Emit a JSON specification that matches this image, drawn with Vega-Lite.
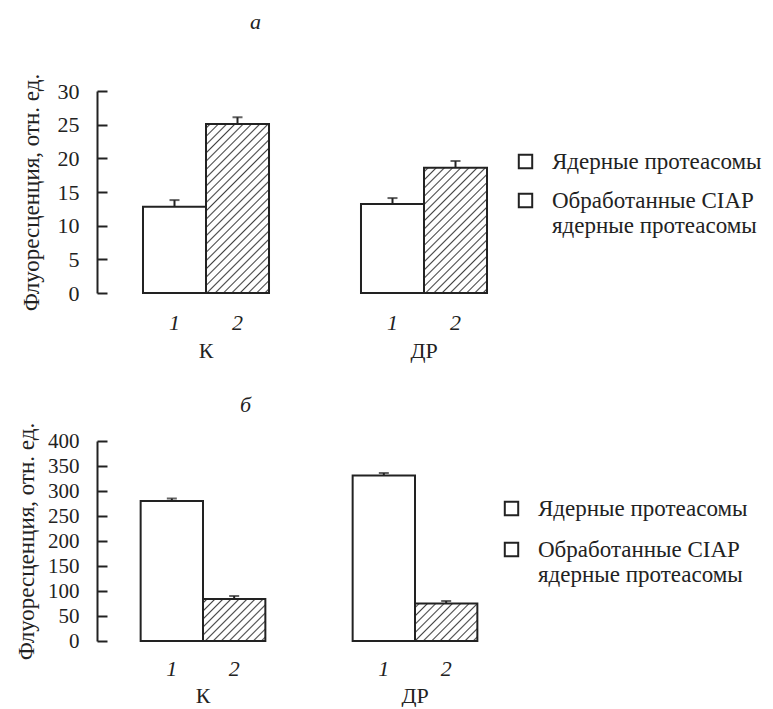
{
  "$schema": "https://vega.github.io/schema/vega-lite/v6.json",
  "background": "white",
  "padding": {"left": 14, "top": 11, "right": 4, "bottom": 0},
  "config": {
    "font": "Liberation Serif, Times New Roman, serif",
    "view": {"stroke": null},
    "title": {"fontSize": 22, "fontStyle": "italic", "fontWeight": "normal", "font": "Liberation Serif, Times New Roman, serif", "color": "#222"},
    "axis": {"labelFont": "Liberation Serif, Times New Roman, serif", "titleFont": "Liberation Serif, Times New Roman, serif", "labelColor": "#222", "titleColor": "#222", "grid": false},
    "header": {"labelFont": "Liberation Serif, Times New Roman, serif", "labelFontSize": 22, "labelColor": "#222"},
    "legend": {"labelFont": "Liberation Serif, Times New Roman, serif", "labelFontSize": 23, "labelColor": "#222", "labelLimit": 0}
  },
  "spacing": 32,
  "resolve": {"scale": {"fill": "independent"}, "legend": {"fill": "independent"}},
  "vconcat": [
    {
      "title": {"text": "а", "anchor": "start", "frame": "group", "dx": 153, "offset": 39},
      "data": {"values": [
        {"group": "К", "bar": "1", "value": 12.8, "upper": 13.8},
        {"group": "К", "bar": "2", "value": 25.1, "upper": 26.1},
        {"group": "ДР", "bar": "1", "value": 13.2, "upper": 14.1},
        {"group": "ДР", "bar": "2", "value": 18.6, "upper": 19.6}
      ]},
      "facet": {"column": {"field": "group", "type": "nominal", "sort": ["К", "ДР"], "title": null, "header": {"labelOrient": "bottom", "labelPadding": 8, "labelFont": "Liberation Serif, Times New Roman, serif", "labelFontSize": 22, "labelColor": "#222"}}},
      "spacing": {"column": 0},
      "spec": {
        "width": 218,
        "height": 202,
        "encoding": {
          "x": {"field": "bar", "type": "nominal", "scale": {"paddingInner": 0, "paddingOuter": 0.73}, "axis": {"domain": false, "ticks": false, "labelAngle": 0, "labelFont": "Liberation Serif, Times New Roman, serif", "labelFontStyle": "italic", "labelFontSize": 22, "labelColor": "#222", "labelPadding": 18, "title": null}}
        },
        "layer": [
          {
            "mark": {"type": "bar", "stroke": "#222", "strokeWidth": 2},
            "encoding": {
              "y": {"field": "value", "type": "quantitative", "scale": {"domain": [0, 30]}, "axis": {"values": [0, 5, 10, 15, 20, 25, 30], "labelOverlap": false, "tickSize": -10, "tickWidth": 2, "tickColor": "#222", "domainWidth": 2, "domainColor": "#222", "labelFont": "Liberation Serif, Times New Roman, serif", "labelFontSize": 22, "labelColor": "#222", "labelPadding": 28, "title": "Флуоресценция, отн. ед.", "titleFont": "Liberation Serif, Times New Roman, serif", "titleColor": "#222", "titleFontSize": 23, "titleFontWeight": "normal", "titlePadding": 6, "minExtent": 48, "maxExtent": 48}},
              "fill": {
                "field": "bar", "type": "nominal",
                "scale": {"domain": ["1", "2"], "range": ["white", "white"]},
                "condition": [
                  {"test": "datum.group === 'К' && datum.bar === '2'", "value": {"gradient": "linear", "x1": 0, "y1": 0, "x2": 0.4493, "y2": 1.2053, "stops": [
                    {"offset": 0.0114, "color": "#fff"}, {"offset": 0.0179, "color": "#444"}, {"offset": 0.0244, "color": "#fff"},
                    {"offset": 0.0471, "color": "#fff"}, {"offset": 0.0536, "color": "#444"}, {"offset": 0.0601, "color": "#fff"},
                    {"offset": 0.0828, "color": "#fff"}, {"offset": 0.0893, "color": "#444"}, {"offset": 0.0958, "color": "#fff"},
                    {"offset": 0.1185, "color": "#fff"}, {"offset": 0.1250, "color": "#444"}, {"offset": 0.1315, "color": "#fff"},
                    {"offset": 0.1542, "color": "#fff"}, {"offset": 0.1607, "color": "#444"}, {"offset": 0.1672, "color": "#fff"},
                    {"offset": 0.1899, "color": "#fff"}, {"offset": 0.1964, "color": "#444"}, {"offset": 0.2029, "color": "#fff"},
                    {"offset": 0.2256, "color": "#fff"}, {"offset": 0.2321, "color": "#444"}, {"offset": 0.2386, "color": "#fff"},
                    {"offset": 0.2614, "color": "#fff"}, {"offset": 0.2679, "color": "#444"}, {"offset": 0.2744, "color": "#fff"},
                    {"offset": 0.2971, "color": "#fff"}, {"offset": 0.3036, "color": "#444"}, {"offset": 0.3101, "color": "#fff"},
                    {"offset": 0.3328, "color": "#fff"}, {"offset": 0.3393, "color": "#444"}, {"offset": 0.3458, "color": "#fff"},
                    {"offset": 0.3685, "color": "#fff"}, {"offset": 0.3750, "color": "#444"}, {"offset": 0.3815, "color": "#fff"},
                    {"offset": 0.4042, "color": "#fff"}, {"offset": 0.4107, "color": "#444"}, {"offset": 0.4172, "color": "#fff"},
                    {"offset": 0.4399, "color": "#fff"}, {"offset": 0.4464, "color": "#444"}, {"offset": 0.4529, "color": "#fff"},
                    {"offset": 0.4756, "color": "#fff"}, {"offset": 0.4821, "color": "#444"}, {"offset": 0.4886, "color": "#fff"},
                    {"offset": 0.5114, "color": "#fff"}, {"offset": 0.5179, "color": "#444"}, {"offset": 0.5244, "color": "#fff"},
                    {"offset": 0.5471, "color": "#fff"}, {"offset": 0.5536, "color": "#444"}, {"offset": 0.5601, "color": "#fff"},
                    {"offset": 0.5828, "color": "#fff"}, {"offset": 0.5893, "color": "#444"}, {"offset": 0.5958, "color": "#fff"},
                    {"offset": 0.6185, "color": "#fff"}, {"offset": 0.6250, "color": "#444"}, {"offset": 0.6315, "color": "#fff"},
                    {"offset": 0.6542, "color": "#fff"}, {"offset": 0.6607, "color": "#444"}, {"offset": 0.6672, "color": "#fff"},
                    {"offset": 0.6899, "color": "#fff"}, {"offset": 0.6964, "color": "#444"}, {"offset": 0.7029, "color": "#fff"},
                    {"offset": 0.7256, "color": "#fff"}, {"offset": 0.7321, "color": "#444"}, {"offset": 0.7386, "color": "#fff"},
                    {"offset": 0.7614, "color": "#fff"}, {"offset": 0.7679, "color": "#444"}, {"offset": 0.7744, "color": "#fff"},
                    {"offset": 0.7971, "color": "#fff"}, {"offset": 0.8036, "color": "#444"}, {"offset": 0.8101, "color": "#fff"},
                    {"offset": 0.8328, "color": "#fff"}, {"offset": 0.8393, "color": "#444"}, {"offset": 0.8458, "color": "#fff"},
                    {"offset": 0.8685, "color": "#fff"}, {"offset": 0.8750, "color": "#444"}, {"offset": 0.8815, "color": "#fff"},
                    {"offset": 0.9042, "color": "#fff"}, {"offset": 0.9107, "color": "#444"}, {"offset": 0.9172, "color": "#fff"},
                    {"offset": 0.9399, "color": "#fff"}, {"offset": 0.9464, "color": "#444"}, {"offset": 0.9529, "color": "#fff"},
                    {"offset": 0.9756, "color": "#fff"}, {"offset": 0.9821, "color": "#444"}, {"offset": 0.9886, "color": "#fff"}
                  ]}},
                  {"test": "datum.group === 'ДР' && datum.bar === '2'", "value": {"gradient": "linear", "x1": 0, "y1": 0, "x2": 0.6036, "y2": 1.1995, "stops": [
                    {"offset": 0.0137, "color": "#fff"}, {"offset": 0.0217, "color": "#444"}, {"offset": 0.0297, "color": "#fff"},
                    {"offset": 0.0572, "color": "#fff"}, {"offset": 0.0652, "color": "#444"}, {"offset": 0.0732, "color": "#fff"},
                    {"offset": 0.1007, "color": "#fff"}, {"offset": 0.1087, "color": "#444"}, {"offset": 0.1167, "color": "#fff"},
                    {"offset": 0.1442, "color": "#fff"}, {"offset": 0.1522, "color": "#444"}, {"offset": 0.1602, "color": "#fff"},
                    {"offset": 0.1877, "color": "#fff"}, {"offset": 0.1957, "color": "#444"}, {"offset": 0.2037, "color": "#fff"},
                    {"offset": 0.2311, "color": "#fff"}, {"offset": 0.2391, "color": "#444"}, {"offset": 0.2471, "color": "#fff"},
                    {"offset": 0.2746, "color": "#fff"}, {"offset": 0.2826, "color": "#444"}, {"offset": 0.2906, "color": "#fff"},
                    {"offset": 0.3181, "color": "#fff"}, {"offset": 0.3261, "color": "#444"}, {"offset": 0.3341, "color": "#fff"},
                    {"offset": 0.3616, "color": "#fff"}, {"offset": 0.3696, "color": "#444"}, {"offset": 0.3776, "color": "#fff"},
                    {"offset": 0.4050, "color": "#fff"}, {"offset": 0.4130, "color": "#444"}, {"offset": 0.4210, "color": "#fff"},
                    {"offset": 0.4485, "color": "#fff"}, {"offset": 0.4565, "color": "#444"}, {"offset": 0.4645, "color": "#fff"},
                    {"offset": 0.4920, "color": "#fff"}, {"offset": 0.5000, "color": "#444"}, {"offset": 0.5080, "color": "#fff"},
                    {"offset": 0.5355, "color": "#fff"}, {"offset": 0.5435, "color": "#444"}, {"offset": 0.5515, "color": "#fff"},
                    {"offset": 0.5790, "color": "#fff"}, {"offset": 0.5870, "color": "#444"}, {"offset": 0.5950, "color": "#fff"},
                    {"offset": 0.6224, "color": "#fff"}, {"offset": 0.6304, "color": "#444"}, {"offset": 0.6384, "color": "#fff"},
                    {"offset": 0.6659, "color": "#fff"}, {"offset": 0.6739, "color": "#444"}, {"offset": 0.6819, "color": "#fff"},
                    {"offset": 0.7094, "color": "#fff"}, {"offset": 0.7174, "color": "#444"}, {"offset": 0.7254, "color": "#fff"},
                    {"offset": 0.7529, "color": "#fff"}, {"offset": 0.7609, "color": "#444"}, {"offset": 0.7689, "color": "#fff"},
                    {"offset": 0.7963, "color": "#fff"}, {"offset": 0.8043, "color": "#444"}, {"offset": 0.8123, "color": "#fff"},
                    {"offset": 0.8398, "color": "#fff"}, {"offset": 0.8478, "color": "#444"}, {"offset": 0.8558, "color": "#fff"},
                    {"offset": 0.8833, "color": "#fff"}, {"offset": 0.8913, "color": "#444"}, {"offset": 0.8993, "color": "#fff"},
                    {"offset": 0.9268, "color": "#fff"}, {"offset": 0.9348, "color": "#444"}, {"offset": 0.9428, "color": "#fff"},
                    {"offset": 0.9703, "color": "#fff"}, {"offset": 0.9783, "color": "#444"}, {"offset": 0.9863, "color": "#fff"}
                  ]}}
                ],
                "legend": {
                  "title": null,
                  "orient": "none",
                  "legendX": 417,
                  "legendY": 59,
                  "symbolType": "square",
                  "symbolSize": 180,
                  "symbolStrokeWidth": 2,
                  "symbolStrokeColor": "#222",
                  "labelOffset": 15,
                  "rowPadding": 15,
                  "labelFont": "Liberation Serif, Times New Roman, serif",
                  "labelFontSize": 23,
                  "labelColor": "#222",
                  "labelLimit": 0,
                  "labelExpr": "datum.value === '1' ? 'Ядерные протеасомы' : ['Обработанные CIAP', 'ядерные протеасомы']",
                  "encode": {
                    "labels": {"update": {"lineHeight": {"value": 25}}},
                    "symbols": {"update": {"fill": [
                      {"test": "datum.value === '2'", "value": {"gradient": "linear", "x1": 0, "y1": 0, "x2": 1, "y2": 1, "stops": [{"offset": 0.42, "color": "#fff"}, {"offset": 0.5, "color": "#444"}, {"offset": 0.58, "color": "#fff"}]}},
                      {"value": "white"}
                    ], "stroke": {"value": "#222"}, "strokeWidth": {"value": 2}}}
                  }
                }
              }
            }
          },
          {
            "mark": {"type": "rule", "color": "#222", "strokeWidth": 2},
            "encoding": {
              "y": {"field": "value", "type": "quantitative", "scale": {"domain": [0, 30]}, "axis": {"values": [0, 5, 10, 15, 20, 25, 30], "labelOverlap": false, "tickSize": -10, "tickWidth": 2, "tickColor": "#222", "domainWidth": 2, "domainColor": "#222", "labelFont": "Liberation Serif, Times New Roman, serif", "labelFontSize": 22, "labelColor": "#222", "labelPadding": 28, "title": "Флуоресценция, отн. ед.", "titleFont": "Liberation Serif, Times New Roman, serif", "titleColor": "#222", "titleFontSize": 23, "titleFontWeight": "normal", "titlePadding": 6, "minExtent": 48, "maxExtent": 48}},
              "y2": {"field": "upper"}
            }
          },
          {
            "mark": {"type": "tick", "color": "#222", "size": 10, "thickness": 2},
            "encoding": {
              "y": {"field": "upper", "type": "quantitative", "scale": {"domain": [0, 30]}, "axis": {"values": [0, 5, 10, 15, 20, 25, 30], "labelOverlap": false, "tickSize": -10, "tickWidth": 2, "tickColor": "#222", "domainWidth": 2, "domainColor": "#222", "labelFont": "Liberation Serif, Times New Roman, serif", "labelFontSize": 22, "labelColor": "#222", "labelPadding": 28, "title": "Флуоресценция, отн. ед.", "titleFont": "Liberation Serif, Times New Roman, serif", "titleColor": "#222", "titleFontSize": 23, "titleFontWeight": "normal", "titlePadding": 6, "minExtent": 48, "maxExtent": 48}}
            }
          }
        ]
      }
    },
    {
      "title": {"text": "б", "anchor": "start", "frame": "group", "dx": 143, "offset": 5},
      "data": {"values": [
        {"group": "К", "bar": "1", "value": 280, "upper": 285},
        {"group": "К", "bar": "2", "value": 84, "upper": 90},
        {"group": "ДР", "bar": "1", "value": 331, "upper": 336},
        {"group": "ДР", "bar": "2", "value": 75, "upper": 80}
      ]},
      "facet": {"column": {"field": "group", "type": "nominal", "sort": ["К", "ДР"], "title": null, "header": {"labelOrient": "bottom", "labelPadding": 7, "labelFont": "Liberation Serif, Times New Roman, serif", "labelFontSize": 22, "labelColor": "#222"}}},
      "spacing": {"column": 0},
      "spec": {
        "width": 212,
        "height": 200,
        "encoding": {
          "x": {"field": "bar", "type": "nominal", "scale": {"paddingInner": 0, "paddingOuter": 0.7}, "axis": {"domain": false, "ticks": false, "labelAngle": 0, "labelFont": "Liberation Serif, Times New Roman, serif", "labelFontStyle": "italic", "labelFontSize": 22, "labelColor": "#222", "labelPadding": 16, "title": null}}
        },
        "layer": [
          {
            "mark": {"type": "bar", "stroke": "#222", "strokeWidth": 2},
            "encoding": {
              "y": {"field": "value", "type": "quantitative", "scale": {"domain": [0, 400]}, "axis": {"values": [0, 50, 100, 150, 200, 250, 300, 350, 400], "labelOverlap": false, "tickSize": -10, "tickWidth": 2, "tickColor": "#222", "domainWidth": 2, "domainColor": "#222", "labelFont": "Liberation Serif, Times New Roman, serif", "labelFontSize": 21, "labelColor": "#222", "labelPadding": 28, "title": "Флуоресценция, отн. ед.", "titleFont": "Liberation Serif, Times New Roman, serif", "titleColor": "#222", "titleFontSize": 23, "titleFontWeight": "normal", "titlePadding": 7, "minExtent": 52, "maxExtent": 52}},
              "fill": {
                "field": "bar", "type": "nominal",
                "scale": {"domain": ["1", "2"], "range": ["white", "white"]},
                "condition": [
                  {"test": "datum.group === 'К' && datum.bar === '2'", "value": {"gradient": "linear", "x1": 0, "y1": 0, "x2": 1.1512, "y2": 0.7755, "stops": [
                    {"offset": 0.0241, "color": "#fff"}, {"offset": 0.0385, "color": "#444"}, {"offset": 0.0529, "color": "#fff"},
                    {"offset": 0.1010, "color": "#fff"}, {"offset": 0.1154, "color": "#444"}, {"offset": 0.1298, "color": "#fff"},
                    {"offset": 0.1779, "color": "#fff"}, {"offset": 0.1923, "color": "#444"}, {"offset": 0.2067, "color": "#fff"},
                    {"offset": 0.2548, "color": "#fff"}, {"offset": 0.2692, "color": "#444"}, {"offset": 0.2836, "color": "#fff"},
                    {"offset": 0.3318, "color": "#fff"}, {"offset": 0.3462, "color": "#444"}, {"offset": 0.3606, "color": "#fff"},
                    {"offset": 0.4087, "color": "#fff"}, {"offset": 0.4231, "color": "#444"}, {"offset": 0.4375, "color": "#fff"},
                    {"offset": 0.4856, "color": "#fff"}, {"offset": 0.5000, "color": "#444"}, {"offset": 0.5144, "color": "#fff"},
                    {"offset": 0.5625, "color": "#fff"}, {"offset": 0.5769, "color": "#444"}, {"offset": 0.5913, "color": "#fff"},
                    {"offset": 0.6394, "color": "#fff"}, {"offset": 0.6538, "color": "#444"}, {"offset": 0.6682, "color": "#fff"},
                    {"offset": 0.7164, "color": "#fff"}, {"offset": 0.7308, "color": "#444"}, {"offset": 0.7452, "color": "#fff"},
                    {"offset": 0.7933, "color": "#fff"}, {"offset": 0.8077, "color": "#444"}, {"offset": 0.8221, "color": "#fff"},
                    {"offset": 0.8702, "color": "#fff"}, {"offset": 0.8846, "color": "#444"}, {"offset": 0.8990, "color": "#fff"},
                    {"offset": 0.9471, "color": "#fff"}, {"offset": 0.9615, "color": "#444"}, {"offset": 0.9759, "color": "#fff"}
                  ]}},
                  {"test": "datum.group === 'ДР' && datum.bar === '2'", "value": {"gradient": "linear", "x1": 0, "y1": 0, "x2": 1.1760, "y2": 0.7073, "stops": [
                    {"offset": 0.0267, "color": "#fff"}, {"offset": 0.0417, "color": "#444"}, {"offset": 0.0567, "color": "#fff"},
                    {"offset": 0.1100, "color": "#fff"}, {"offset": 0.1250, "color": "#444"}, {"offset": 0.1400, "color": "#fff"},
                    {"offset": 0.1933, "color": "#fff"}, {"offset": 0.2083, "color": "#444"}, {"offset": 0.2233, "color": "#fff"},
                    {"offset": 0.2767, "color": "#fff"}, {"offset": 0.2917, "color": "#444"}, {"offset": 0.3067, "color": "#fff"},
                    {"offset": 0.3600, "color": "#fff"}, {"offset": 0.3750, "color": "#444"}, {"offset": 0.3900, "color": "#fff"},
                    {"offset": 0.4433, "color": "#fff"}, {"offset": 0.4583, "color": "#444"}, {"offset": 0.4733, "color": "#fff"},
                    {"offset": 0.5267, "color": "#fff"}, {"offset": 0.5417, "color": "#444"}, {"offset": 0.5567, "color": "#fff"},
                    {"offset": 0.6100, "color": "#fff"}, {"offset": 0.6250, "color": "#444"}, {"offset": 0.6400, "color": "#fff"},
                    {"offset": 0.6933, "color": "#fff"}, {"offset": 0.7083, "color": "#444"}, {"offset": 0.7233, "color": "#fff"},
                    {"offset": 0.7767, "color": "#fff"}, {"offset": 0.7917, "color": "#444"}, {"offset": 0.8067, "color": "#fff"},
                    {"offset": 0.8600, "color": "#fff"}, {"offset": 0.8750, "color": "#444"}, {"offset": 0.8900, "color": "#fff"},
                    {"offset": 0.9433, "color": "#fff"}, {"offset": 0.9583, "color": "#444"}, {"offset": 0.9733, "color": "#fff"}
                  ]}}
                ],
                "legend": {
                  "title": null,
                  "orient": "none",
                  "legendX": 403,
                  "legendY": 56,
                  "symbolType": "square",
                  "symbolSize": 180,
                  "symbolStrokeWidth": 2,
                  "symbolStrokeColor": "#222",
                  "labelOffset": 15,
                  "rowPadding": 17,
                  "labelFont": "Liberation Serif, Times New Roman, serif",
                  "labelFontSize": 23,
                  "labelColor": "#222",
                  "labelLimit": 0,
                  "labelExpr": "datum.value === '1' ? 'Ядерные протеасомы' : ['Обработанные CIAP', 'ядерные протеасомы']",
                  "encode": {
                    "labels": {"update": {"lineHeight": {"value": 25}}},
                    "symbols": {"update": {"fill": [
                      {"test": "datum.value === '2'", "value": {"gradient": "linear", "x1": 0, "y1": 0, "x2": 1, "y2": 1, "stops": [{"offset": 0.42, "color": "#fff"}, {"offset": 0.5, "color": "#444"}, {"offset": 0.58, "color": "#fff"}]}},
                      {"value": "white"}
                    ], "stroke": {"value": "#222"}, "strokeWidth": {"value": 2}}}
                  }
                }
              }
            }
          },
          {
            "mark": {"type": "rule", "color": "#222", "strokeWidth": 2},
            "encoding": {
              "y": {"field": "value", "type": "quantitative", "scale": {"domain": [0, 400]}, "axis": {"values": [0, 50, 100, 150, 200, 250, 300, 350, 400], "labelOverlap": false, "tickSize": -10, "tickWidth": 2, "tickColor": "#222", "domainWidth": 2, "domainColor": "#222", "labelFont": "Liberation Serif, Times New Roman, serif", "labelFontSize": 21, "labelColor": "#222", "labelPadding": 28, "title": "Флуоресценция, отн. ед.", "titleFont": "Liberation Serif, Times New Roman, serif", "titleColor": "#222", "titleFontSize": 23, "titleFontWeight": "normal", "titlePadding": 7, "minExtent": 52, "maxExtent": 52}},
              "y2": {"field": "upper"}
            }
          },
          {
            "mark": {"type": "tick", "color": "#222", "size": 10, "thickness": 2},
            "encoding": {
              "y": {"field": "upper", "type": "quantitative", "scale": {"domain": [0, 400]}, "axis": {"values": [0, 50, 100, 150, 200, 250, 300, 350, 400], "labelOverlap": false, "tickSize": -10, "tickWidth": 2, "tickColor": "#222", "domainWidth": 2, "domainColor": "#222", "labelFont": "Liberation Serif, Times New Roman, serif", "labelFontSize": 21, "labelColor": "#222", "labelPadding": 28, "title": "Флуоресценция, отн. ед.", "titleFont": "Liberation Serif, Times New Roman, serif", "titleColor": "#222", "titleFontSize": 23, "titleFontWeight": "normal", "titlePadding": 7, "minExtent": 52, "maxExtent": 52}}
            }
          }
        ]
      }
    }
  ]
}
